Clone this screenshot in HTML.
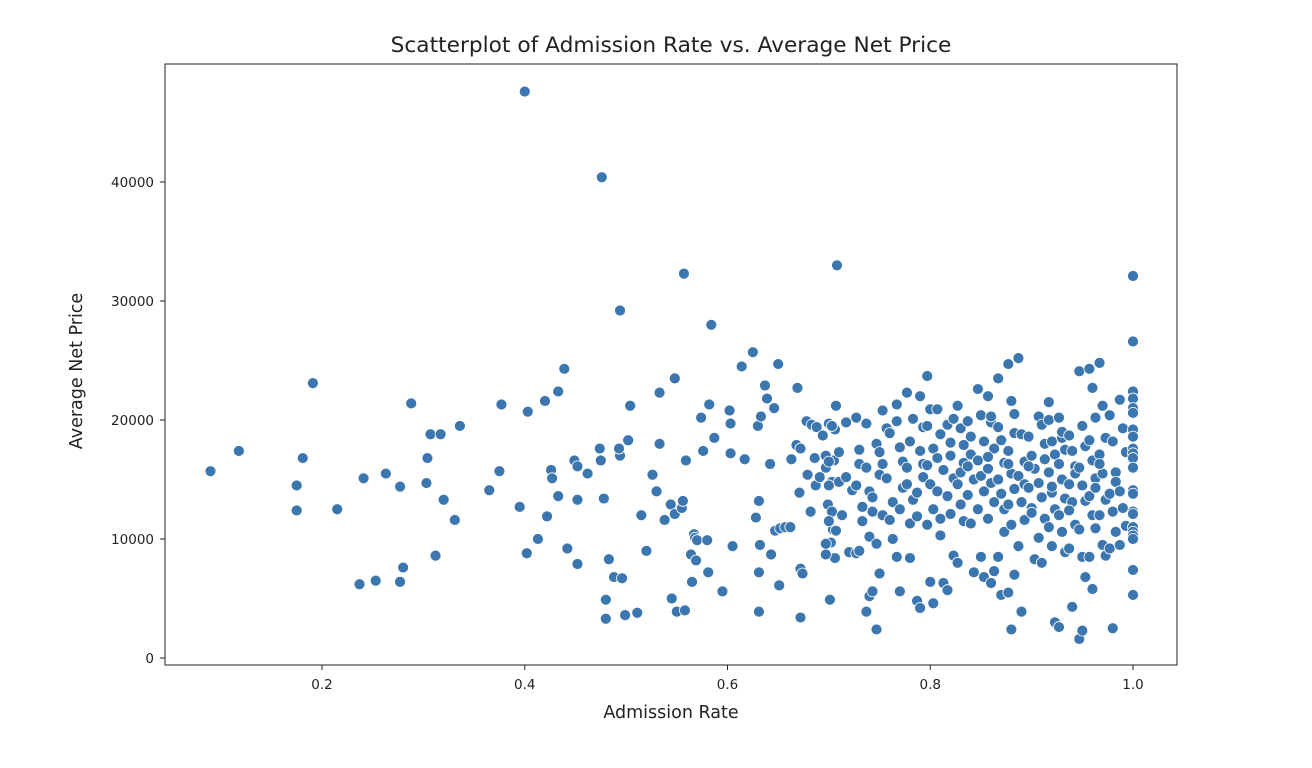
<!DOCTYPE html>
<html><head><meta charset="utf-8"><style>
body{margin:0;background:#fff;width:1312px;height:764px;overflow:hidden;font-family:"DejaVu Sans","Liberation Sans",sans-serif}
</style></head><body>
<svg id="chart" width="1312" height="764" xmlns="http://www.w3.org/2000/svg" font-family="DejaVu Sans, Liberation Sans, sans-serif">
<text x="671" y="52" text-anchor="middle" font-size="21.7" fill="#222">Scatterplot of Admission Rate vs. Average Net Price</text>
<rect x="165" y="64" width="1012" height="601" fill="none" stroke="#222" stroke-width="1"/>
<g id="ticks"></g>
<g id="points"></g>
<text x="671" y="718" text-anchor="middle" font-size="17.5" fill="#222">Admission Rate</text>
<text transform="translate(82,371) rotate(-90)" text-anchor="middle" font-size="17.5" fill="#222">Average Net Price</text>
</svg>
<script>
const xTicks=[0.2,0.4,0.6,0.8,1.0];
const xTickLabels=["0.2","0.4","0.6","0.8","1.0"];
const yTicks=[0,10000,20000,30000,40000];
const yTickLabels=["0","10000","20000","30000","40000"];
const sparsePoints=[[0.09,15.7],[0.118,17.4],[0.175,14.5],[0.175,12.4],[0.181,16.8],[0.191,23.1],[0.215,12.5],[0.237,6.2],[0.241,15.1],[0.253,6.5],[0.263,15.5],[0.277,14.4],[0.28,7.6],[0.277,6.4],[0.288,21.4],[0.303,14.7],[0.304,16.8],[0.307,18.8],[0.317,18.8],[0.312,8.6],[0.32,13.3],[0.331,11.6],[0.336,19.5],[0.365,14.1],[0.375,15.7],[0.377,21.3],[0.395,12.7],[0.402,8.8],[0.403,20.7],[0.40,47.6],[0.413,10.0],[0.42,21.6],[0.422,11.9],[0.426,15.8],[0.427,15.1],[0.433,22.4],[0.433,13.6],[0.439,24.3],[0.442,9.2],[0.449,16.6],[0.452,16.1],[0.452,13.3],[0.452,7.9],[0.462,15.5],[0.474,17.6],[0.475,16.6],[0.476,40.4],[0.478,13.4],[0.48,4.9],[0.48,3.3],[0.483,8.3],[0.488,6.8],[0.494,17.0],[0.493,17.6],[0.496,6.7],[0.499,3.6],[0.502,18.3],[0.504,21.2],[0.511,3.8],[0.494,29.2],[0.515,12.0],[0.52,9.0],[0.526,15.4],[0.53,14.0],[0.533,22.3],[0.533,18.0],[0.538,11.6],[0.544,12.9],[0.545,5.0],[0.548,23.5],[0.548,12.1],[0.55,3.9],[0.555,12.6],[0.556,13.2],[0.557,32.3],[0.558,4.0],[0.559,16.6],[0.564,8.7],[0.565,6.4],[0.567,10.4],[0.568,10.1],[0.569,8.2],[0.57,9.9],[0.574,20.2],[0.576,17.4],[0.58,9.9],[0.581,7.2],[0.582,21.3],[0.584,28.0],[0.587,18.5],[0.595,5.6],[0.602,20.8],[0.603,19.7],[0.603,17.2],[0.605,9.4],[0.614,24.5],[0.617,16.7],[0.625,25.7],[0.628,11.8],[0.63,19.5],[0.631,13.2],[0.632,9.5],[0.631,7.2],[0.631,3.9],[0.633,20.3],[0.637,22.9],[0.639,21.8],[0.642,16.3],[0.643,8.7],[0.646,21.0],[0.647,10.7],[0.65,24.7],[0.651,6.1],[0.652,10.9],[0.657,11.0],[0.662,11.0],[0.663,16.7],[0.668,17.9],[0.669,22.7],[0.671,13.9],[0.672,17.6],[0.672,3.4],[0.672,7.5],[0.674,7.1],[0.678,19.9],[0.679,15.4],[0.682,12.3],[0.683,19.6],[0.686,16.8],[0.687,14.5],[0.688,19.4],[0.691,15.2],[0.694,18.7],[0.697,16.0],[0.699,12.9],[0.70,19.7],[0.701,4.9],[0.702,9.7],[0.703,14.8],[0.704,10.8],[0.705,16.6],[0.706,8.4],[0.706,19.2],[0.708,33.0]];
const denseRates=[0.70,0.71,0.72,0.73,0.74,0.75,0.76,0.77,0.78,0.79,0.80,0.81,0.82,0.83,0.84,0.85,0.86,0.87,0.88,0.89,0.90,0.91,0.92,0.93,0.94,0.95,0.96,0.97,0.98,0.99,1.0];
const densePrices=[[17.0,16.5,19.5,8.7,14.5,12.3,9.6,11.5],[21.2,14.8,12.0,10.7,17.3],[15.2,8.9,14.1,19.8],[20.2,16.3,12.7,8.8,9.0,11.5,14.5,17.5],[19.7,14.0,12.3,16.0,5.2,5.6,3.9,10.2,13.5],[2.4,7.1,20.8,18.0,15.4,12.0,9.6,17.3,16.3],[19.3,11.6,13.1,15.1,18.9,10.0],[21.3,17.7,14.3,8.5,12.5,16.5,19.9,5.6],[22.3,18.2,13.3,16.0,11.3,20.1,14.6,8.4],[4.8,4.2,15.2,13.9,17.4,19.4,11.9,22.0,16.3],[23.7,20.9,17.6,16.2,14.6,12.5,11.2,6.4,4.6,19.5],[20.9,18.8,15.8,14.0,11.7,6.3,16.8,10.3],[19.6,17.0,15.1,13.6,12.1,8.6,5.7,18.1,20.1],[21.2,19.3,16.4,14.6,12.9,11.5,8.0,15.6,17.9],[19.9,17.1,15.0,13.7,11.3,7.2,16.1,18.6],[22.6,20.4,18.2,16.6,15.3,14.0,12.5,8.5,6.8],[22.0,19.8,17.6,15.9,14.7,13.1,11.7,6.3,7.3,16.9,20.3],[23.5,18.3,16.4,15.0,13.8,12.5,8.5,5.3,10.6,19.4],[24.7,21.6,20.5,17.4,15.5,14.2,12.9,11.2,7.0,5.5,2.4,18.9,16.3],[25.2,18.8,16.5,15.3,13.1,11.6,9.4,3.9,14.6],[18.6,17.0,15.9,14.3,12.6,8.3,16.1,12.2],[20.3,19.6,16.7,14.7,13.5,11.7,10.1,8.0,18.0],[21.5,18.2,17.1,15.6,13.9,12.5,11.0,9.4,3.0,20.0,14.4],[20.2,18.5,17.5,16.3,15.0,13.4,12.0,10.6,8.9,2.6,19.0],[18.7,17.4,16.1,14.6,13.1,11.2,9.2,4.3,15.5,12.4],[24.1,19.5,17.8,16.0,14.5,13.2,10.8,8.5,6.8,1.6,2.3],[24.3,22.7,20.2,18.3,16.6,15.1,13.6,12.0,10.9,8.5,5.8,14.3],[24.8,21.2,18.5,17.1,15.5,13.3,12.0,9.5,8.6,16.3],[20.4,18.2,15.6,13.8,12.3,10.6,9.2,2.5,14.8],[21.7,19.3,17.3,14.0,12.6,11.1,9.5],[32.1,26.6,22.4,21.8,21.0,20.6,19.2,18.6,17.6,17.2,16.8,16.0,14.1,13.8,12.3,12.1,11.0,10.6,10.3,10.0,7.4,5.3]];
const NS="http://www.w3.org/2000/svg";
function xs(v){return 322+(v-0.2)*1013.75;}
function ys(v){return 658-v*0.01190;}
const tg=document.getElementById('ticks');
xTicks.forEach((t,i)=>{
  const l=document.createElementNS(NS,'line');
  l.setAttribute('x1',xs(t));l.setAttribute('x2',xs(t));l.setAttribute('y1',665);l.setAttribute('y2',670);l.setAttribute('stroke','#222');
  
  
  tg.appendChild(l);
  const tx=document.createElementNS(NS,'text');
  tx.setAttribute('x',xs(t));tx.setAttribute('y',689);tx.setAttribute('text-anchor','middle');tx.setAttribute('font-size','13.5');tx.setAttribute('fill','#222');
  tx.textContent=xTickLabels[i];
  
  
  tg.appendChild(tx);
});
yTicks.forEach((t,i)=>{
  const l=document.createElementNS(NS,'line');
  l.setAttribute('x1',160);l.setAttribute('x2',165);l.setAttribute('y1',ys(t));l.setAttribute('y2',ys(t));l.setAttribute('stroke','#222');
  
  
  tg.appendChild(l);
  const tx=document.createElementNS(NS,'text');
  tx.setAttribute('x',154);tx.setAttribute('y',ys(t)+5);tx.setAttribute('text-anchor','end');tx.setAttribute('font-size','13.5');tx.setAttribute('fill','#222');
  tx.textContent=yTickLabels[i];
  
  
  tg.appendChild(tx);
});
const pg=document.getElementById('points');
function dot(x,y){
  const c=document.createElementNS(NS,'circle');
  c.setAttribute('cx',xs(x));c.setAttribute('cy',ys(y*1000));c.setAttribute('r',5.5);
  c.setAttribute('fill','#3b76af');c.setAttribute('stroke','#fff');c.setAttribute('stroke-width','0.8');
  
  
  pg.appendChild(c);
}
sparsePoints.forEach(p=>dot(p[0],p[1]));
denseRates.forEach((r,i)=>{
  densePrices[i].forEach((v,j)=>{
    const off=(r<1.0)?((j%3)-1)*0.003:0;
    dot(Math.min(1.0,r+off),v);
  });
});
</script>
</body></html>
